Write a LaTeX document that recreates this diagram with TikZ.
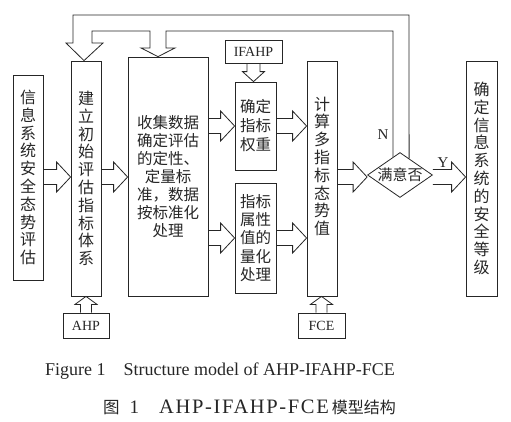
\documentclass[tikz,border=0pt]{standalone}
\usepackage{fontspec}
\setmainfont{Liberation Serif}
\newfontfamily\cjk{Noto Sans CJK SC}
\newfontfamily\capfont[LetterSpace=8]{Liberation Serif}
\usetikzlibrary{shapes.geometric,calc}
\newcommand\hollowr[2]{\draw[ln] let \p1=(#1), \p2=(#2) in
  (\x1,\y1+7.5pt) -- (\x2-14pt,\y1+7.5pt) -- (\x2-14pt,\y1+15pt) -- (\x2,\y1)
  -- (\x2-14pt,\y1-15pt) -- (\x2-14pt,\y1-7.5pt) -- (\x1,\y1-7.5pt);}
\newcommand\hollowu[2]{\draw[ln] let \p1=(#1), \p2=(#2) in
  (\x1-5.5pt,\y1) -- (\x1-5.5pt,\y2-8pt) -- (\x1-11pt,\y2-8pt) -- (\x1,\y2)
  -- (\x1+11pt,\y2-8pt) -- (\x1+5.5pt,\y2-8pt) -- (\x1+5.5pt,\y1);}
\newcommand\hollowd[2]{\draw[ln] let \p1=(#1), \p2=(#2) in
  (\x1-6.5pt,\y1) -- (\x1-6.5pt,\y2+10pt) -- (\x1-11pt,\y2+10pt) -- (\x1,\y2)
  -- (\x1+11pt,\y2+10pt) -- (\x1+6.5pt,\y2+10pt) -- (\x1+6.5pt,\y1);}
\begin{document}
\begin{tikzpicture}[x=1pt,y=-1pt,
  box/.style={draw=black!85, line width=0.8pt, inner sep=0pt, align=center,
    font=\cjk\fontsize{16}{17.8}\selectfont, text=black!85},
  lbl/.style={draw=black!85, line width=0.8pt, inner sep=0pt,
    font=\fontsize{14}{16}\selectfont, text=black!85},
  ln/.style={draw=black!85, line width=0.8pt, line join=miter}]
\useasboundingbox (0,0) rectangle (511,421);
\node[box, minimum width=30pt, minimum height=205pt] (b1) at (28,177.5)
  {信\\息\\系\\统\\安\\全\\态\\势\\评\\估};
\node[box, minimum width=30pt, minimum height=235pt] (b2) at (86,178.5)
  {建\\立\\初\\始\\评\\估\\指\\标\\体\\系};
\node[box, minimum width=80pt, minimum height=239pt,
  font=\cjk\fontsize{15.5}{18}\selectfont] (b3) at (168,176.5)
  {收集数据\\确定评估\\的定性、\\定量标\\准，数据\\按标准化\\处理};
\node[box, minimum width=41pt, minimum height=88pt,
  font=\cjk\fontsize{15.5}{19}\selectfont] (b4) at (255.5,126)
  {确定\\指标\\权重};
\node[box, minimum width=41pt, minimum height=110pt,
  font=\cjk\fontsize{15.5}{18.3}\selectfont] (b5) at (255.5,238)
  {指标\\属性\\值的\\量化\\处理};
\node[lbl, minimum width=57pt, minimum height=23pt] (ifahp) at (253.5,51.5) {IFAHP};
\node[box, minimum width=30pt, minimum height=235pt] (b6) at (322,178.5)
  {计\\算\\多\\指\\标\\态\\势\\值\\[8pt]};
\node[diamond, draw=black!85, line width=0.8pt, minimum width=65pt,
  minimum height=45pt, inner sep=0pt] (d) at (400,175) {};
\node[font=\cjk\fontsize{15}{17}\selectfont, text=black!85, inner sep=0pt] (dt) at (d) {满意否};
\node[box, minimum width=31pt, minimum height=235pt] (b7) at (481.5,178.5)
  {确\\定\\信\\息\\系\\统\\的\\安\\全\\等\\级};
\node[lbl, minimum width=46pt, minimum height=25pt] (ahp) at (86,325.5) {AHP};
\node[lbl, minimum width=47pt, minimum height=25pt] (fce) at (321.5,325.5) {FCE};

\hollowr{$(b1.east)+(0,-0.5)$}{$(b2.west)+(0,-1.5)$}
\hollowr{$(b2.east)+(0,-1.5)$}{$(b3.west)+(0,0.5)$}
\hollowr{b3.east |- b4.west}{b4.west}
\hollowr{b3.east |- b5.west}{$(b5.west)+(0,2)$}
\hollowr{b4.east}{b6.west |- b4.east}
\hollowr{b5.east}{b6.west |- b5.east}
\hollowr{$(b6.east |- d.west)+(0,2)$}{$(d.west)+(0,2)$}
\hollowr{$(d.east)+(0,2)$}{$(b7.west |- d.east)+(0,2)$}
\hollowu{ahp.north}{b2.south}
\hollowu{fce.north}{b6.south}
\hollowd{ifahp.south}{ifahp.south |- b4.north}

\coordinate (nL) at ($(d.north)!0.215!(d.west)$);
\coordinate (nR) at ($(d.north)!0.277!(d.east)$);
\coordinate (t2) at ($(b2.north)+(-2,0)$);
\coordinate (t3) at ($(b3.north)+(-10,0)$);
\draw[ln] (nR) -- (409,15) -- (73,15) -- (73,43) -- (66,43) -- (t2) -- (103,43)
  -- (92,43) -- (92,31) -- (150,31) -- (150,48) -- (141,48) -- (t3) -- (175,48)
  -- (166,48) -- (166,31) -- (393,31) -- (nL);

\node[font=\fontsize{15}{16}\selectfont, text=black!85] (nlab) at (383,135) {N};
\node[font=\fontsize{15}{16}\selectfont, text=black!85] (ylab) at (443,163) {Y};

\node[anchor=base west, font=\fontsize{18}{20}\selectfont, text=black!85, inner sep=0pt] (cap1) at (45,375)
  {Figure 1\quad Structure model of AHP-IFAHP-FCE};
\node[anchor=base west, font=\fontsize{19}{20}\selectfont, text=black!85, inner sep=0pt] (cap2) at (103,413)
  {{\cjk\fontsize{16.5}{20}\selectfont 图}\hspace{10pt}1\hspace{20pt}{\capfont\fontsize{20.5}{22}\selectfont AHP-IFAHP-FCE}\hspace{3pt}{\cjk\fontsize{16}{20}\selectfont 模型结构}};
\end{tikzpicture}
\end{document}
